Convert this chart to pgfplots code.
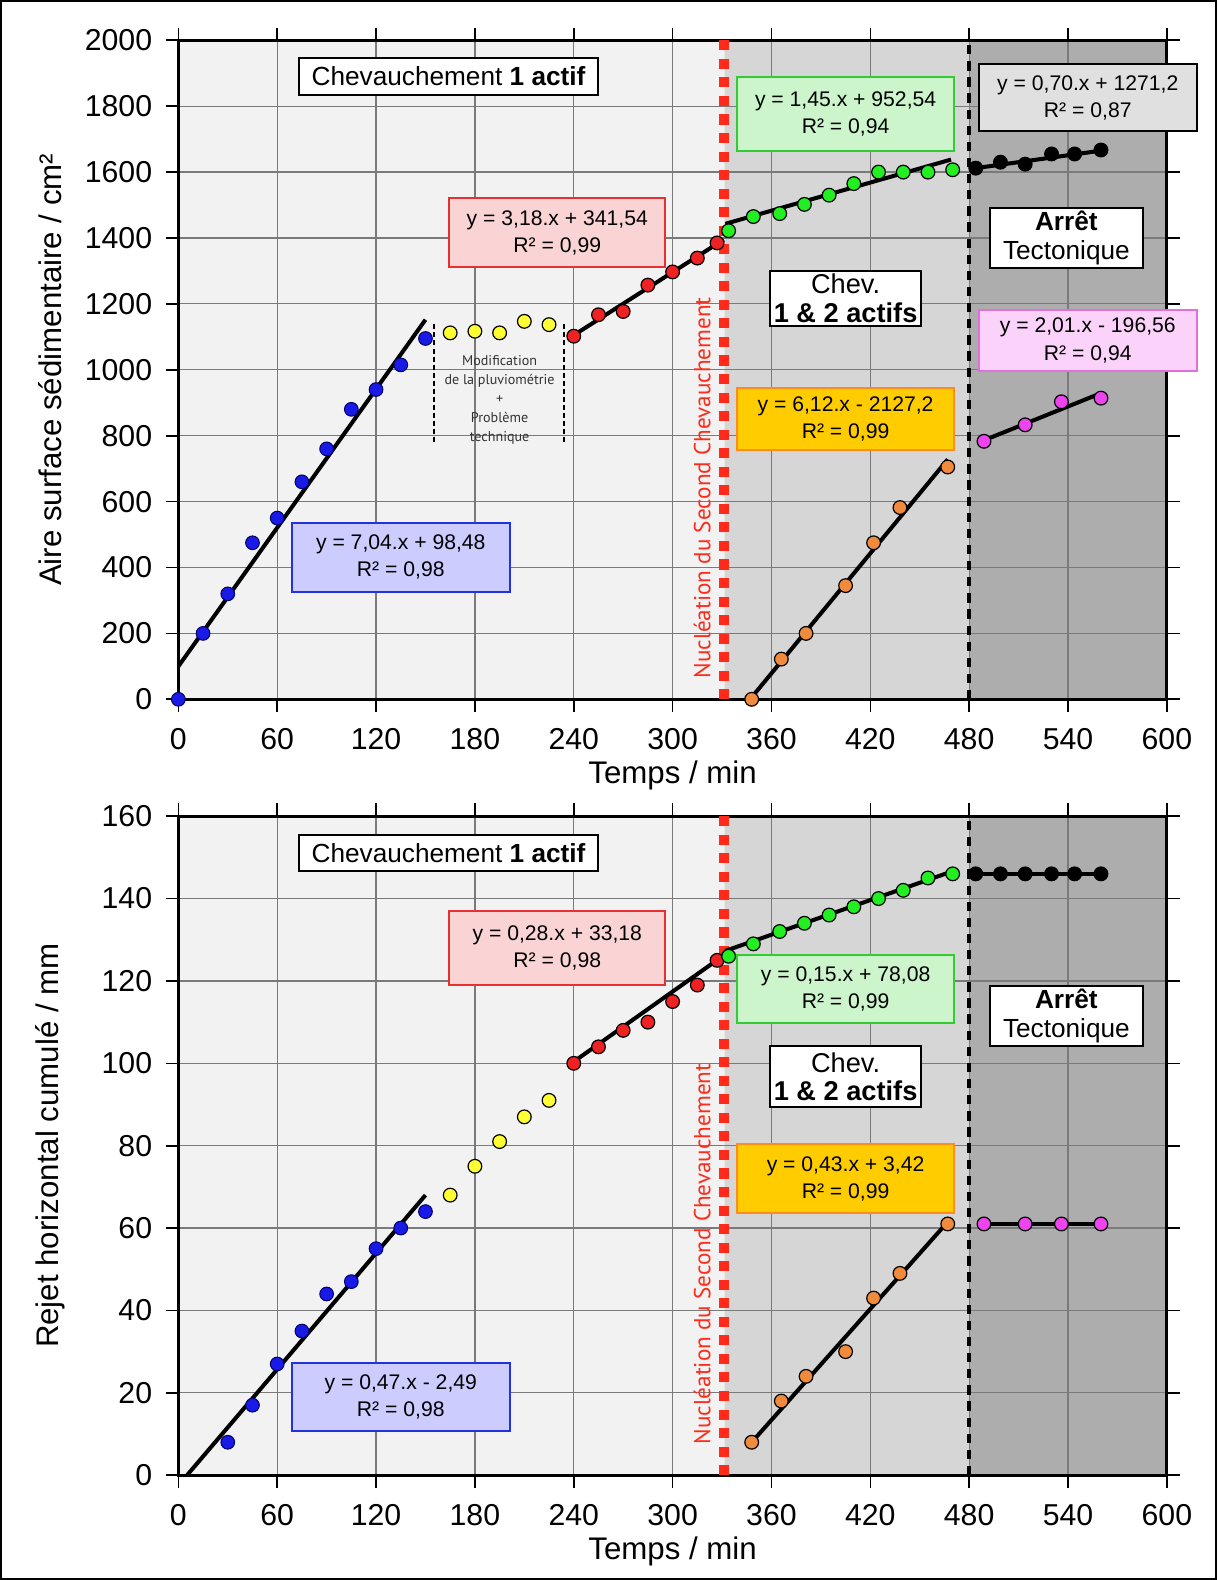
\documentclass[border=0pt]{standalone}
\usepackage{pgfplots}
\pgfplotsset{compat=1.18}
\usepackage{fontspec}
\setmainfont{Liberation Sans}
\newfontfamily\myr{PT Sans}
\definecolor{bgA}{HTML}{F2F2F2}
\definecolor{bgB}{HTML}{D6D6D6}
\definecolor{bgC}{HTML}{ADADAD}
\definecolor{cblue}{HTML}{1A1AE6}
\definecolor{cyellow}{HTML}{FFFF33}
\definecolor{cred}{HTML}{EE2222}
\definecolor{cgreen}{HTML}{22EE22}
\definecolor{corange}{HTML}{F08A3C}
\definecolor{cmag}{HTML}{EE44EE}
\definecolor{cdash}{HTML}{FF2A1A}
\definecolor{fblue}{HTML}{CCCCFF}
\definecolor{bblue}{HTML}{2233DD}
\definecolor{fred}{HTML}{FAD4D4}
\definecolor{bred}{HTML}{E83030}
\definecolor{fgreen}{HTML}{CCF5CC}
\definecolor{bgreen}{HTML}{33CC33}
\definecolor{fgray}{HTML}{E0E0E0}
\definecolor{fmag}{HTML}{FAD2FA}
\definecolor{bmag}{HTML}{E070E0}
\definecolor{forange}{HTML}{FFCC00}
\definecolor{borange}{HTML}{FF8C1A}
\pgfdeclarehorizontalshading{bands}{100bp}{color(0bp)=(bgA); color(52.58bp)=(bgA); color(52.6bp)=(bgB); color(65bp)=(bgB); color(65.02bp)=(bgC); color(100bp)=(bgC)}
\tikzset{box/.style={draw, line width=1pt, align=center, inner sep=0pt, font=\fontsize{10.5}{13.5}\selectfont}}
\pgfplotsset{
 myaxis/.style={
  scale only axis, width=490.5pt, height=327pt,
  xmin=0, xmax=600, xtick={0,60,...,600},
  axis background/.style={shading=bands},
  grid=major, grid style={line width=0.6pt, color=black!52},
  axis line style={line width=1.5pt},
  tick align=outside, major tick length=6.3pt,
  tick style={line width=0.8pt, black},
  tick label style={font=\fontsize{15}{15}\selectfont},
  xticklabel style={yshift=-4.7pt},
  yticklabel style={xshift=-3.2pt},
  /pgf/number format/assume math mode=true,
  /pgf/number format/1000 sep={},
  scaled ticks=false,
  clip=false,
  every axis x label/.style={at={(axis description cs:0.5,-0.1162)}, anchor=center, font=\fontsize{15.5}{16}\selectfont},
  every axis y label/.style={at={(axis description cs:-0.1295,0.5)}, anchor=center, rotate=90, font=\fontsize{15.5}{16}\selectfont},
 },
 pts/.style={only marks, mark=*, mark size=3.4pt, mark options={fill=#1, draw=black, line width=0.6pt}},
 bpts/.style={only marks, mark=*, mark size=3.4pt, mark options={fill=cblue, draw=black!60!blue, line width=0.5pt}},
 fit/.style={black, line width=2pt, no markers},
 rdash/.style={cdash, line width=5pt, dash pattern=on 5pt off 4.2pt, no markers},
 kdash/.style={black, line width=2.3pt, dash pattern=on 4.6pt off 3.4pt, no markers},
}
\begin{document}
\begin{tikzpicture}
\draw[line width=1pt] (0.5pt,0.5pt) rectangle (603.5pt,783.5pt);
% ---------- TOP PANEL ----------
\begin{axis}[myaxis, at={(88.5pt,437pt)}, anchor=south west,
  ymin=0, ymax=2000, ytick={0,200,...,2000},
  xlabel={Temps / min}, ylabel={Aire surface sédimentaire / cm²}]
\addplot[rdash] coordinates {(331,0)(331,2000)};
\addplot[kdash] coordinates {(480,0)(480,2000)};
\addplot[black, line width=1pt, dash pattern=on 2.5pt off 1.5pt, no markers] coordinates {(155,1138)(155,777)};
\addplot[black, line width=1pt, dash pattern=on 2.5pt off 1.5pt, no markers] coordinates {(234,1138)(234,777)};
% blue
\addplot[bpts] coordinates {(0,0)(15,200)(30,320)(45,475)(60,550)(75,660)(90,760)(105,880)(120,940)(135,1015)(150,1095)};
\addplot[fit] coordinates {(0,100)(150,1152)};
% yellow
\addplot[pts=cyellow] coordinates {(165,1112)(180,1117)(195,1112)(210,1147)(225,1137)};
% red
\addplot[pts=cred] coordinates {(240,1102)(255,1167)(270,1177)(285,1257)(300,1297)(315,1339)(327,1385)};
\addplot[fit] coordinates {(240,1105)(331,1395)};
% green
\addplot[pts=cgreen] coordinates {(334,1422)(349,1465)(365,1474)(380,1502)(395,1530)(410,1565)(425,1600)(440,1600)(455,1600)(470,1607)};
\addplot[fit] coordinates {(332,1443)(469,1638)};
% black
\addplot[pts=black] coordinates {(484,1612)(499,1630)(514,1624)(530,1655)(544,1655)(560,1667)};
\addplot[fit] coordinates {(484,1612)(560,1665)};
% orange
\addplot[pts=corange] coordinates {(348,0)(366,122)(381,200)(405,345)(422,475)(438,582)(467,705)};
\addplot[fit] coordinates {(347,0)(467,728)};
% magenta
\addplot[pts=cmag] coordinates {(489,783)(514,833)(536,903)(560,914)};
\addplot[fit] coordinates {(489,786)(560,929)};
% texts
\node[rotate=90, text=cdash, font=\myr\fontsize{11.5}{12}\selectfont] at (axis cs:318,642) {Nucléation du Second Chevauchement};
\node[font=\myr\fontsize{7}{9.5}\selectfont, align=center, text=black!80] at (axis cs:195,908) {Modification\\de la pluviométrie\\+\\Problème\\technique};
\node[draw, line width=1pt, fill=white, minimum width=148pt, minimum height=18pt, inner sep=0pt, font=\fontsize{13}{14}\selectfont] at (axis cs:164,1890) {Chevauchement \textbf{1 actif}};
\node[box, fill=fred, draw=bred, minimum width=107pt, minimum height=34pt] at (axis cs:230,1416) {y = 3,18.x + 341,54\\R² = 0,99};
\node[box, fill=fgreen, draw=bgreen, minimum width=107.5pt, minimum height=36.5pt] at (axis cs:405,1777) {y = 1,45.x + 952,54\\R² = 0,94};
\node[box, fill=fgray, draw=black, minimum width=108pt, minimum height=33.5pt] at (axis cs:552,1826) {y = 0,70.x + 1271,2\\R² = 0,87};
\node[box, fill=white, minimum width=76pt, minimum height=30pt, font=\fontsize{13}{14}\selectfont] at (axis cs:539,1400) {\textbf{Arrêt}\\Tectonique};
\node[box, fill=white, minimum width=75pt, minimum height=27.5pt, font=\fontsize{13.5}{14}\selectfont] at (axis cs:405,1217) {Chev.\\\textbf{1 \& 2 actifs}};
\node[box, fill=fmag, draw=bmag, minimum width=108pt, minimum height=30pt] at (axis cs:552,1089) {y = 2,01.x - 196,56\\R² = 0,94};
\node[box, fill=forange, draw=borange, minimum width=107.5pt, minimum height=31pt] at (axis cs:405,850) {y = 6,12.x - 2127,2\\R² = 0,99};
\node[box, fill=fblue, draw=bblue, minimum width=108pt, minimum height=34pt] at (axis cs:135,431) {y = 7,04.x + 98,48\\R² = 0,98};
\end{axis}
% ---------- BOTTOM PANEL ----------
\begin{axis}[myaxis, at={(88.5pt,52pt)}, anchor=south west,
  ymin=0, ymax=160, ytick={0,20,...,160},
  xlabel={Temps / min}, ylabel={Rejet horizontal cumulé / mm}]
\addplot[rdash] coordinates {(331,0)(331,160)};
\addplot[kdash] coordinates {(480,0)(480,160)};
% blue
\addplot[bpts] coordinates {(30,8)(45,17)(60,27)(75,35)(90,44)(105,47)(120,55)(135,60)(150,64)};
\addplot[fit] coordinates {(5.3,0)(150,68)};
% yellow
\addplot[pts=cyellow] coordinates {(165,68)(180,75)(195,81)(210,87)(225,91)};
% red
\addplot[pts=cred] coordinates {(240,100)(255,104)(270,108)(285,110)(300,115)(315,119)(327,125)};
\addplot[fit] coordinates {(240,100.4)(331,126.2)};
% green
\addplot[pts=cgreen] coordinates {(334,126)(349,129)(365,132)(380,134)(395,136)(410,138)(425,140)(440,142)(455,145)(470,146)};
\addplot[fit] coordinates {(332,127.3)(469,146.5)};
% black
\addplot[fit] coordinates {(484,146)(560,146)};
\addplot[pts=black] coordinates {(484,146)(499,146)(514,146)(530,146)(544,146)(560,146)};
% orange
\addplot[pts=corange] coordinates {(348,8)(366,18)(381,24)(405,30)(422,43)(438,49)(467,61)};
\addplot[fit] coordinates {(348,8)(467,61.5)};
% magenta
\addplot[fit] coordinates {(489,61)(560,61)};
\addplot[pts=cmag] coordinates {(489,61)(514,61)(536,61)(560,61)};
% texts
\node[rotate=90, text=cdash, font=\myr\fontsize{11.5}{12}\selectfont] at (axis cs:318,53.7) {Nucléation du Second Chevauchement};
\node[draw, line width=1pt, fill=white, minimum width=148pt, minimum height=18pt, inner sep=0pt, font=\fontsize{13}{14}\selectfont] at (axis cs:164,151) {Chevauchement \textbf{1 actif}};
\node[box, fill=fred, draw=bred, minimum width=107pt, minimum height=36.5pt] at (axis cs:230,128) {y = 0,28.x + 33,18\\R² = 0,98};
\node[box, fill=fgreen, draw=bgreen, minimum width=107.5pt, minimum height=33.5pt] at (axis cs:405,118) {y = 0,15.x + 78,08\\R² = 0,99};
\node[box, fill=white, minimum width=76pt, minimum height=30pt, font=\fontsize{13}{14}\selectfont] at (axis cs:539,111.5) {\textbf{Arrêt}\\Tectonique};
\node[box, fill=white, minimum width=75pt, minimum height=30pt, font=\fontsize{13.5}{14}\selectfont] at (axis cs:405,96.8) {Chev.\\\textbf{1 \& 2 actifs}};
\node[box, fill=forange, draw=borange, minimum width=107.5pt, minimum height=34pt] at (axis cs:405,72) {y = 0,43.x + 3,42\\R² = 0,99};
\node[box, fill=fblue, draw=bblue, minimum width=108pt, minimum height=34pt] at (axis cs:135,19) {y = 0,47.x - 2,49\\R² = 0,98};
\end{axis}
\end{tikzpicture}
\end{document}
